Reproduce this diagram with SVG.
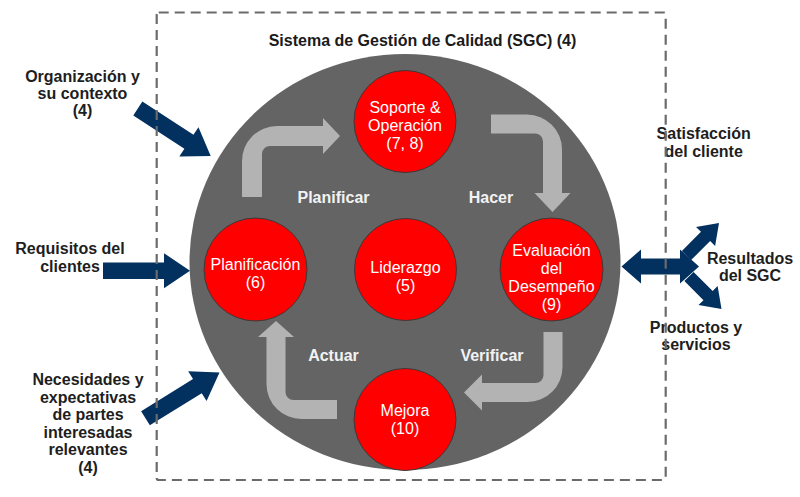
<svg xmlns="http://www.w3.org/2000/svg" width="800" height="497" viewBox="0 0 800 497">
<style>
  text { font-family: "Liberation Sans", Arial, sans-serif; font-size: 16px; }
  .lbl { font-weight: bold; fill: #1e1e1e; text-anchor: middle; }
  .phase { font-weight: bold; fill: #f2f2f2; text-anchor: middle; }
  .ntxt { fill: #ffffff; text-anchor: middle; }
  .red { fill: #ff0000; stroke: #3a3a3a; stroke-width: 1; }
  .cyc { fill: #b3b3b3; }
  .navy { fill: #02305f; }
</style>
<defs>
  <polygon id="nav" points="-87,-8.3 -26,-8.3 -26,-17.5 0,0 -26,17.5 -26,8.3 -87,8.3"/>
  <polygon id="dia" points="-46,-6.5 -19,-6.5 -19,-13.5 0,0 -19,13.5 -19,6.5 -46,6.5"/>
</defs>
<rect width="800" height="497" fill="#ffffff"/>

<g id="sgc">
  <ellipse cx="405" cy="262" rx="215.5" ry="208" fill="#646464"/>
</g>

<g id="connectors">
  <path class="cyc" d="M242,197 L242,161 A35,35 0 0 1 277,126 L323,126 L323,118 L340,136 L323,154 L323,146 L270,146 A8,8 0 0 0 262,154 L262,197 Z"/>
  <path class="cyc" d="M491,114.5 L527,114.5 A35,35 0 0 1 562,149.5 L562,193 L570.5,193 L552.5,212 L534.5,193 L543,193 L543,141.5 A8,8 0 0 0 535,133.5 L491,133.5 Z"/>
  <path class="cyc" d="M543.5,332 L562.5,332 L562.5,367 A35,35 0 0 1 527.5,402 L482,402 L482,410.5 L464,392.5 L482,374.5 L482,383 L535.5,383 A8,8 0 0 0 543.5,375 Z"/>
  <path class="cyc" d="M337,400 L337,419 L301.5,419 A35,35 0 0 1 266.5,384 L266.5,337 L258,337 L276,321 L294,337 L285.5,337 L285.5,392 A8,8 0 0 0 293.5,400 Z"/>

  <use href="#nav" class="navy" transform="translate(210.7,156) rotate(33.1)"/>
  <use href="#nav" class="navy" transform="translate(190,270.7)"/>
  <use href="#nav" class="navy" transform="translate(219.5,372.5) rotate(-31.7)"/>

  <polygon class="navy" points="621.5,266.5 641,249.5 641,258.5 680,258.5 680,249.5 699,266.5 680,283.5 680,274.5 641,274.5 641,283.5"/>
  <use href="#dia" class="navy" transform="translate(719,223) rotate(-45)"/>
  <use href="#dia" class="navy" transform="translate(721.5,309) rotate(45)"/>
</g>

<g id="soporte">
  <circle class="red" cx="405" cy="121.5" r="51"/>
  <text class="ntxt" x="405" y="112.7">Soporte &amp;</text>
  <text class="ntxt" x="405" y="130.7">Operación</text>
  <text class="ntxt" x="405" y="148.7">(7, 8)</text>
</g>
<g id="planificacion">
  <circle class="red" cx="255.5" cy="269.5" r="51.5"/>
  <text class="ntxt" x="255.5" y="270">Planificación</text>
  <text class="ntxt" x="255.5" y="288">(6)</text>
</g>
<g id="liderazgo">
  <circle class="red" cx="405.5" cy="269.5" r="51"/>
  <text class="ntxt" x="405.5" y="273">Liderazgo</text>
  <text class="ntxt" x="405.5" y="291">(5)</text>
</g>
<g id="evaluacion">
  <circle class="red" cx="551.5" cy="269.5" r="51.5"/>
  <text class="ntxt" x="551.5" y="256">Evaluación</text>
  <text class="ntxt" x="551.5" y="274">del</text>
  <text class="ntxt" x="551.5" y="292">Desempeño</text>
  <text class="ntxt" x="551.5" y="310">(9)</text>
</g>
<g id="mejora">
  <circle class="red" cx="405" cy="419.5" r="51"/>
  <text class="ntxt" x="405" y="415.7">Mejora</text>
  <text class="ntxt" x="405" y="433.7">(10)</text>
</g>

<g id="phases">
  <text class="phase" x="333.5" y="202.7">Planificar</text>
  <text class="phase" x="491" y="202.7">Hacer</text>
  <text class="phase" x="333.5" y="360.7">Actuar</text>
  <text class="phase" x="492" y="360.7">Verificar</text>
</g>

<g id="title">
  <text class="lbl" x="422.5" y="46" style="fill:#1a1a1a">Sistema de Gestión de Calidad (SGC) (4)</text>
</g>

<g id="organizacion">
  <text class="lbl" x="82.5" y="82">Organización y</text>
  <text class="lbl" x="82.5" y="99">su contexto</text>
  <text class="lbl" x="82.5" y="116">(4)</text>
</g>
<g id="requisitos">
  <text class="lbl" x="70" y="254.3">Requisitos del</text>
  <text class="lbl" x="70" y="271.7">clientes</text>
</g>
<g id="necesidades">
  <text class="lbl" x="88" y="385">Necesidades y</text>
  <text class="lbl" x="88" y="402.5">expectativas</text>
  <text class="lbl" x="88" y="420">de partes</text>
  <text class="lbl" x="88" y="437.5">interesadas</text>
  <text class="lbl" x="88" y="455">relevantes</text>
  <text class="lbl" x="88" y="472.5">(4)</text>
</g>
<g id="satisfaccion">
  <text class="lbl" x="703.7" y="139.3">Satisfacción</text>
  <text class="lbl" x="703.7" y="156.7">del cliente</text>
</g>
<g id="resultados">
  <text class="lbl" x="750" y="264">Resultados</text>
  <text class="lbl" x="750" y="281">del SGC</text>
</g>
<g id="productos">
  <text class="lbl" x="696" y="333.3">Productos y</text>
  <text class="lbl" x="696" y="350">servicios</text>
</g>

<g id="boundary">
  <rect x="156.7" y="12.5" width="509" height="467.5" rx="2" fill="none" stroke="#6b6b6b" stroke-width="2.2" stroke-dasharray="10,6"/>
</g>
</svg>
